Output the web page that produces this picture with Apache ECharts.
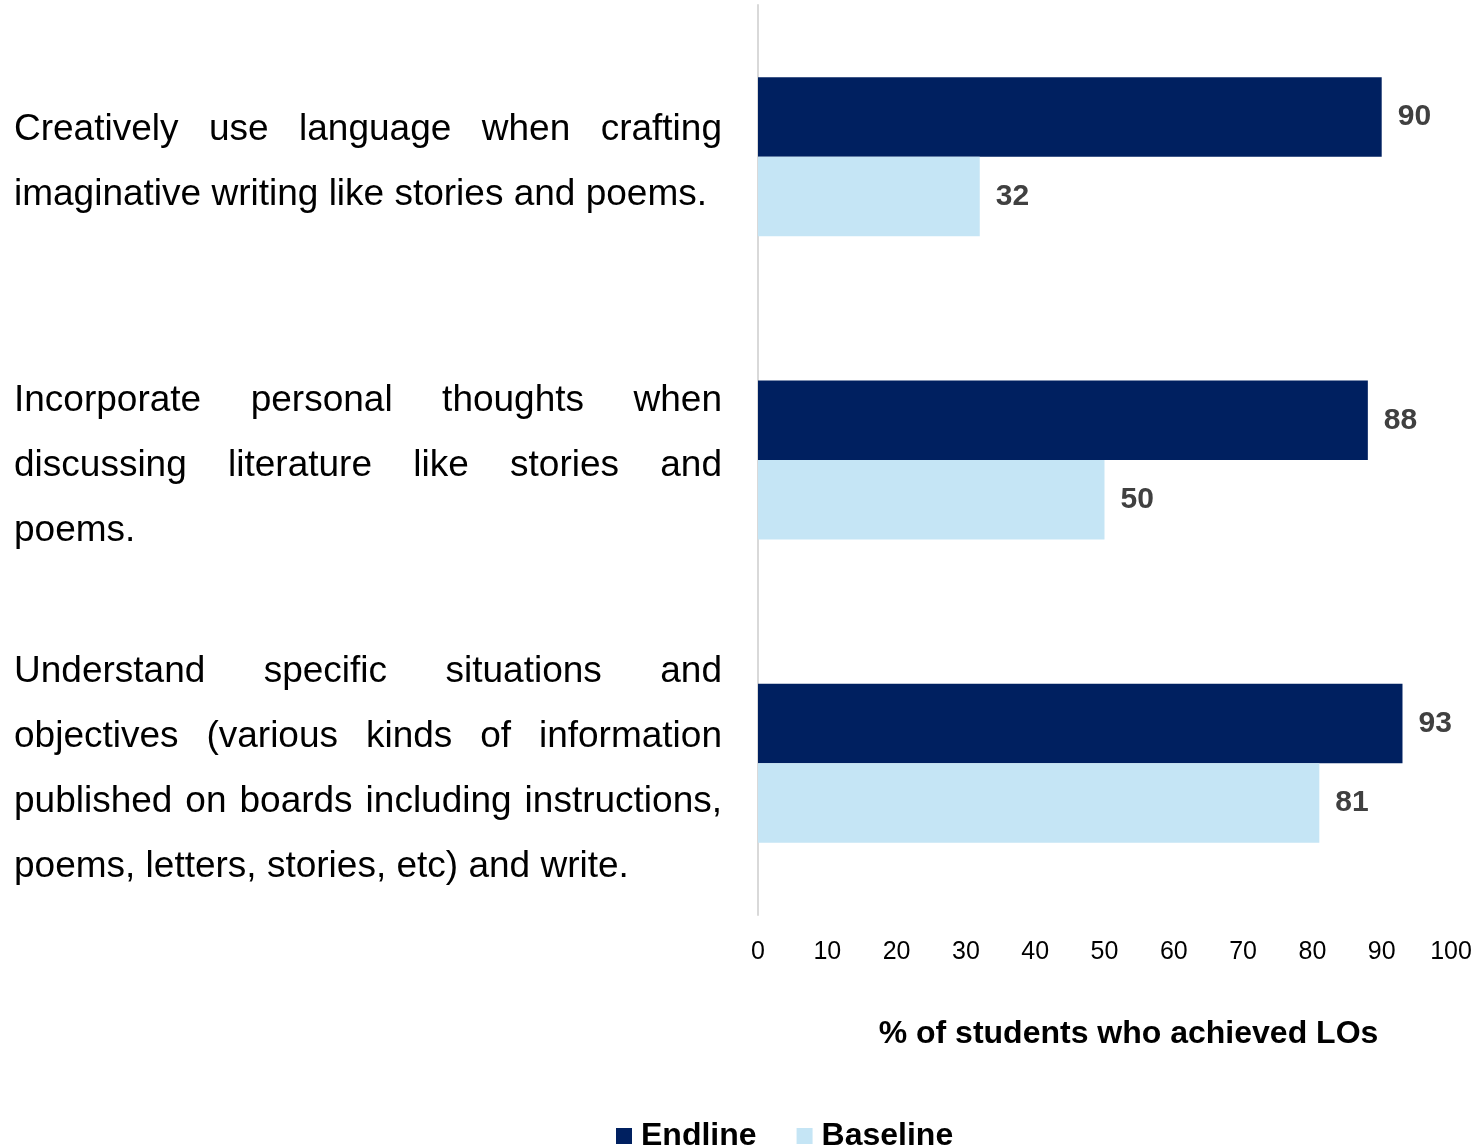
<!DOCTYPE html>
<html>
<head>
<meta charset="utf-8">
<script src="https://cdn.jsdelivr.net/npm/echarts@6/dist/echarts.min.js"></script>
<style>
  html, body { margin: 0; padding: 0; background: #fff; }
  #chart { width: 1478px; height: 1146px; }
</style>
</head>
<body>
<div id="chart"></div>
<script>
const categories = [
  'Creatively use language when crafting\nimaginative writing like stories and poems.',
  'Incorporate personal thoughts when\ndiscussing literature like stories and\npoems.',
  'Understand specific situations and\nobjectives (various kinds of information\npublished on boards including instructions,\npoems, letters, stories, etc) and write.'
];
const endline = [90, 88, 93];
const baseline = [32, 50, 81];
const seriesNames = ['Endline', 'Baseline'];

const fontName = 'Liberation Sans';
const labelSize = 37;
const labelWidth = 708;
const labelLineHeight = 65;

// the category texts are justified in the original: spread the words of each line but the last
const measure = document.createElement('canvas').getContext('2d');
measure.font = labelSize + 'px "' + fontName + '"';
const rich = {
  w: { fontSize: labelSize, fontFamily: fontName, lineHeight: labelLineHeight, align: 'left', color: '#000' }
};
let gapId = 0;
function justify(text) {
  const lines = text.split('\n');
  return lines.map(function (line, i) {
    const words = line.split(' ');
    if (i === lines.length - 1 || words.length < 2) {
      return '{w|' + line + '}';
    }
    let used = 0;
    words.forEach(w => used += measure.measureText(w).width);
    const gap = Math.max(6, (labelWidth - used) / (words.length - 1));
    const key = 'g' + (gapId++);
    rich[key] = { width: gap, fontSize: labelSize, fontFamily: fontName, lineHeight: labelLineHeight, align: 'left' };
    return words.map(w => '{w|' + w + '}').join('{' + key + '| }');
  }).join('\n');
}
const labelTexts = categories.map(justify);

const chart = echarts.init(document.getElementById('chart'));

const valueLabel = {
  show: true,
  position: 'right',
  distance: 16,
  fontSize: 30,
  fontWeight: 'bold',
  fontFamily: fontName,
  color: '#404040',
  padding: [5, 0, 0, 0]
};

const option = {
  animation: false,
  grid: {
    left: 758,
    right: 27,
    top: 5,
    bottom: 231
  },
  legend: {
    data: seriesNames,
    left: 611,
    top: 1115,
    icon: 'rect',
    itemWidth: 16,
    itemHeight: 16,
    itemGap: 40,
    textStyle: {
      fontSize: 32,
      fontWeight: 'bold',
      fontFamily: fontName,
      color: '#000',
      padding: [0, 0, 0, 4]
    }
  },
  xAxis: {
    type: 'value',
    min: 0,
    max: 100,
    interval: 10,
    name: '% of students who achieved LOs',
    nameLocation: 'middle',
    nameGap: 103,
    nameTextStyle: {
      fontSize: 32,
      fontWeight: 'bold',
      fontFamily: fontName,
      color: '#000',
      padding: [0, 0, 0, 48]
    },
    axisLine: { show: false },
    axisTick: { show: false },
    splitLine: { show: false },
    axisLabel: {
      fontSize: 25,
      fontFamily: fontName,
      color: '#000',
      margin: 25
    }
  },
  yAxis: {
    type: 'category',
    data: categories,
    inverse: true,
    axisLine: { show: true, lineStyle: { color: '#d9d9d9', width: 2 } },
    axisTick: { show: false },
    axisLabel: {
      margin: 36,
      align: 'right',
      padding: [11, 0, 0, 0],
      formatter: (value, idx) => labelTexts[idx],
      rich: rich
    }
  },
  series: [
    {
      name: seriesNames[0],
      type: 'bar',
      data: endline,
      barGap: '0%',
      barCategoryGap: '47.6%',
      itemStyle: { color: '#002060' },
      label: valueLabel
    },
    {
      name: seriesNames[1],
      type: 'bar',
      data: baseline,
      barGap: '0%',
      barCategoryGap: '47.6%',
      itemStyle: { color: '#c5e5f5' },
      label: valueLabel
    }
  ]
};

chart.setOption(option);
window.addEventListener('resize', () => chart.resize());
</script>
</body>
</html>
